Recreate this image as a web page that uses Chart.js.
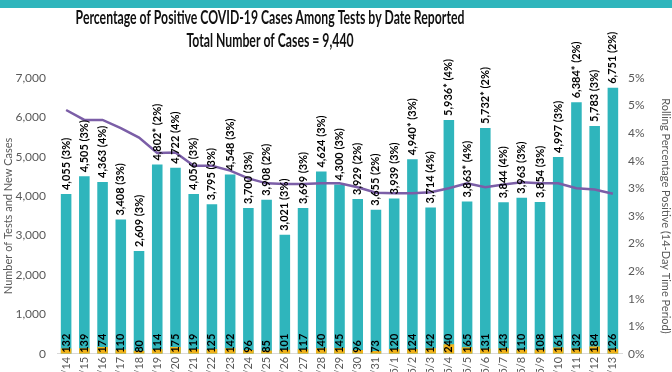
<!DOCTYPE html>
<html lang="en">
<head>
  <meta charset="UTF-8" />
  <title>Percentage of Positive COVID-19 Cases Among Tests</title>
  <script src="https://cdn.jsdelivr.net/npm/chart.js"></script>
  <style>
    body { margin: 0; background: #fff; }
    .topbar { position: absolute; left: 0; top: 0; width: 672px; height: 8px; background: #2fb5bc; }
    .wrap { width: 672px; height: 372px; position: relative; }
  </style>
</head>
<body>
<div class="wrap">
  <canvas id="chart" width="672" height="372"></canvas>
  <div class="topbar"></div>
</div>

<script>
const dates = ["4/14","4/15","4/16","4/17","4/18","4/19","4/20","4/21","4/22","4/23","4/24","4/25","4/26","4/27","4/28","4/29","4/30","4/31",
  "5/1","5/2","5/3","5/4","5/5","5/6","5/7","5/8","5/9","5/10","5/11","5/12","5/13"];
const totalTests = [4055,4505,4363,3408,2609,4802,4722,4056,3795,4548,3700,3908,3021,3699,4624,4300,3929,3655,
  3939,4940,3714,5936,3863,5732,3844,3963,3854,4997,6384,5783,6751];
const dailyPct = [3,3,4,3,3,2,4,3,3,3,3,2,3,3,3,3,2,2,3,3,4,4,4,2,4,3,3,3,2,3,2];
const starred = [0,0,0,0,0,1,0,0,0,0,0,0,0,0,0,0,0,0,0,1,0,1,1,1,0,0,0,0,1,0,0];
const newCases = [132,139,174,110,80,114,175,119,125,142,96,85,101,117,140,145,96,73,
  120,124,142,240,165,131,143,110,108,161,132,184,126];
const rollingPct = [4.42,4.24,4.24,4.09,3.92,3.64,3.65,3.41,3.41,3.32,3.18,3.09,3.08,3.08,3.09,3.09,3.02,2.92,
  2.91,2.91,2.93,3.00,3.09,3.02,3.07,3.11,3.09,3.09,3.00,2.98,2.90];
const titleLines = ['Percentage of Positive COVID-19 Cases Among Tests by Date Reported', 'Total Number of Cases = 9,440'];

const FONT = "Lato, 'Open Sans', sans-serif";

// two-line title, narrow like the original Calibri, centred a bit left of the canvas middle
const narrowTitle = {
  id: 'narrowTitle',
  afterDraw(chart) {
    const ctx = chart.ctx;
    ctx.save();
    ctx.fillStyle = '#111';
    ctx.font = "bold 18px " + FONT;
    ctx.textAlign = 'center';
    ctx.textBaseline = 'middle';
    titleLines.forEach((t, i) => {
      ctx.save();
      ctx.translate(270, 18 + i * 23);
      ctx.scale(0.68, 1);
      ctx.fillText(t, 0, 0);
      ctx.restore();
    });
    ctx.restore();
  }
};

// labels drawn on the bars
const barLabels = {
  id: 'barLabels',
  afterDatasetsDraw(chart) {
    const ctx = chart.ctx;
    const tot = chart.getDatasetMeta(1);
    const pos = chart.getDatasetMeta(2);
    ctx.save();
    ctx.fillStyle = '#000';
    ctx.textAlign = 'left';
    ctx.textBaseline = 'middle';
    ctx.font = "bold 11px " + FONT;
    tot.data.forEach((bar, i) => {
      const n = totalTests[i].toLocaleString('en-US');
      const txt = starred[i] ? n + '* (' + dailyPct[i] + '%)' : n + ' (' + dailyPct[i] + '%)';
      ctx.save();
      ctx.translate(bar.x, bar.y - 4);
      ctx.rotate(-Math.PI / 2);
      ctx.fillText(txt, 0, 0);
      ctx.restore();
    });
    pos.data.forEach((bar, i) => {
      ctx.save();
      ctx.translate(bar.x, bar.base - 1);
      ctx.rotate(-Math.PI / 2);
      ctx.fillText(String(newCases[i]), 0, 0);
      ctx.restore();
    });
    ctx.restore();
  }
};

new Chart(document.getElementById('chart'), {
  data: {
    labels: dates,
    datasets: [
      {
        type: 'line',
        label: 'Rolling Percentage Positive',
        data: rollingPct,
        yAxisID: 'y1',
        borderColor: '#7b5ea7',
        borderWidth: 2.5,
        pointRadius: 0,
        tension: 0,
        order: 0
      },
      {
        type: 'bar',
        label: 'Number of Tests',
        data: totalTests,
        backgroundColor: '#2fb5bc',
        grouped: false,
        barPercentage: 0.58,
        categoryPercentage: 1,
        order: 2
      },
      {
        type: 'bar',
        label: 'New Cases',
        data: newCases,
        backgroundColor: '#f2b31a',
        grouped: false,
        barPercentage: 0.58,
        categoryPercentage: 1,
        order: 1
      }
    ]
  },
  options: {
    responsive: false,
    animation: false,
    layout: { padding: { top: 78 } },
    plugins: {
      legend: { display: false },
      tooltip: { enabled: false },
      title: { display: false }
    },
    scales: {
      x: {
        grid: { display: false, drawTicks: false },
        border: { display: true, color: '#d9d9d9' },
        ticks: { color: '#595959', font: { family: FONT, size: 11 }, padding: 3,
          minRotation: 90, maxRotation: 90, autoSkip: false },
        afterFit(s) { s.height = 18; }
      },
      y: {
        position: 'left',
        min: 0, max: 7000,
        grid: { display: false, drawTicks: false },
        border: { display: false },
        ticks: { stepSize: 1000, color: '#595959', font: { family: FONT, size: 12 }, padding: 11,
          callback: v => v.toLocaleString('en-US') },
        title: { display: true, text: 'Number of Tests and New Cases', color: '#595959', font: { family: FONT, size: 11 }, padding: { top: 2, bottom: 0 } },
        afterFit(s) { s.width = 57; }
      },
      y1: {
        position: 'right',
        min: 0, max: 5,
        grid: { display: false, drawTicks: false },
        border: { display: false },
        ticks: { stepSize: 0.5, color: '#595959', font: { family: FONT, size: 12 }, padding: 6,
          callback: v => Math.round(v) + '%' },
        title: { display: true, text: 'Rolling Percentage Positive (14-Day Time Period)', color: '#595959', font: { family: FONT, size: 11 }, padding: { top: 0, bottom: 8 } },
        afterFit(s) { s.width = 50; }
      }
    }
  },
  plugins: [barLabels, narrowTitle]
});
</script>
</body>
</html>
